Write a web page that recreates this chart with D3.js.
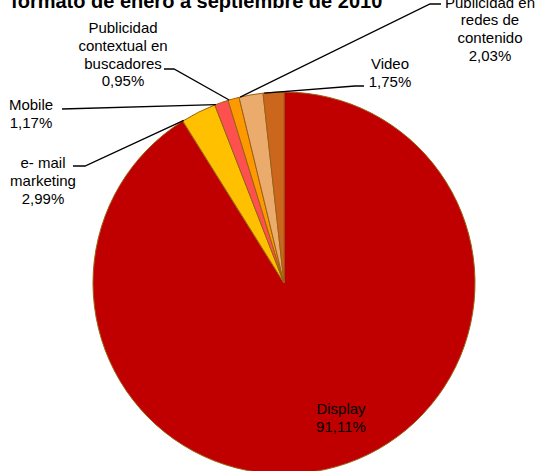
<!DOCTYPE html>
<html>
<head>
<meta charset="utf-8">
<script src="https://cdn.jsdelivr.net/npm/d3@7"></script>
<style>
  body { margin: 0; background: #fff; }
  svg { display: block; font-family: "Liberation Sans", Arial, sans-serif; }
</style>
</head>
<body>
<div id="chart"></div>
<script>
// Data
const categories = ["Display", "e- mail marketing", "Mobile", "Publicidad contextual en buscadores", "Publicidad en redes de contenido", "Video"];
const values = [91.11, 2.99, 1.17, 0.95, 2.03, 1.75];
const labelLines = [
    ["Display"],
    ["e- mail", "marketing"],
    ["Mobile"],
    ["Publicidad", "contextual en", "buscadores"],
    ["Publicidad en", "redes de", "contenido"],
    ["Video"]
];
const colors = ["#C00000", "#FFC000", "#FF5050", "#FF9900", "#EBAB6C", "#CC661D"];
const title = "formato de enero a septiembre de 2010";

const width = 541, height = 471;
const cx = 284, cy = 283, radius = 191;
const lineH = 17.8;

// Label placement (x = centre of text, y = first baseline), leader start and elbow
const labelPos = [
    {x: 341, y: 414, inside: true},
    {x: 43, y: 168, lead: [[73, 166], [85, 166]]},
    {x: 31, y: 110, lead: [[62, 109]]},
    {x: 123, y: 33, lead: [[164, 69], [174, 69]]},
    {x: 490, y: 7.5, lead: [[441, 4], [430, 4]]},
    {x: 390, y: 69, lead: [[364, 86], [355, 86]]}
];

const fmt = v => v.toFixed(2).replace(".", ",") + "%";

const svg = d3.select("#chart").append("svg")
    .attr("width", width)
    .attr("height", height);

// Title (cut at the top like the original)
svg.append("text")
    .attr("x", 11)
    .attr("y", 8)
    .style("font-size", "20px")
    .style("font-weight", "bold")
    .attr("fill", "#000")
    .text(title);

const pie = d3.pie().sort(null).value(d => d);
const arcs = pie(values);
const arc = d3.arc().innerRadius(0).outerRadius(radius);

const g = svg.append("g").attr("transform", `translate(${cx},${cy})`);

g.selectAll("path")
    .data(arcs)
    .enter().append("path")
    .attr("d", arc)
    .attr("fill", (d, i) => colors[i])
    .attr("stroke", "#9A6214")
    .attr("stroke-width", 1);

// Leader lines
arcs.forEach((d, i) => {
    const p = labelPos[i];
    if (p.inside) return;
    const a = d.startAngle + 0.006;
    const end = [cx + radius * Math.sin(a), cy - radius * Math.cos(a)];
    const pts = p.lead.concat([end]);
    svg.append("path")
        .attr("d", d3.line()(pts))
        .attr("fill", "none")
        .attr("stroke", "#000")
        .attr("stroke-width", 1.3);
});

// Labels
arcs.forEach((d, i) => {
    const p = labelPos[i];
    const lines = labelLines[i].concat([fmt(values[i])]);
    const t = svg.append("text")
        .attr("text-anchor", "middle")
        .style("font-size", "15px")
        .attr("fill", "#000");
    lines.forEach((s, k) => {
        t.append("tspan")
            .attr("x", p.x)
            .attr("y", p.y + k * lineH)
            .text(s);
    });
});
</script>
</body>
</html>
